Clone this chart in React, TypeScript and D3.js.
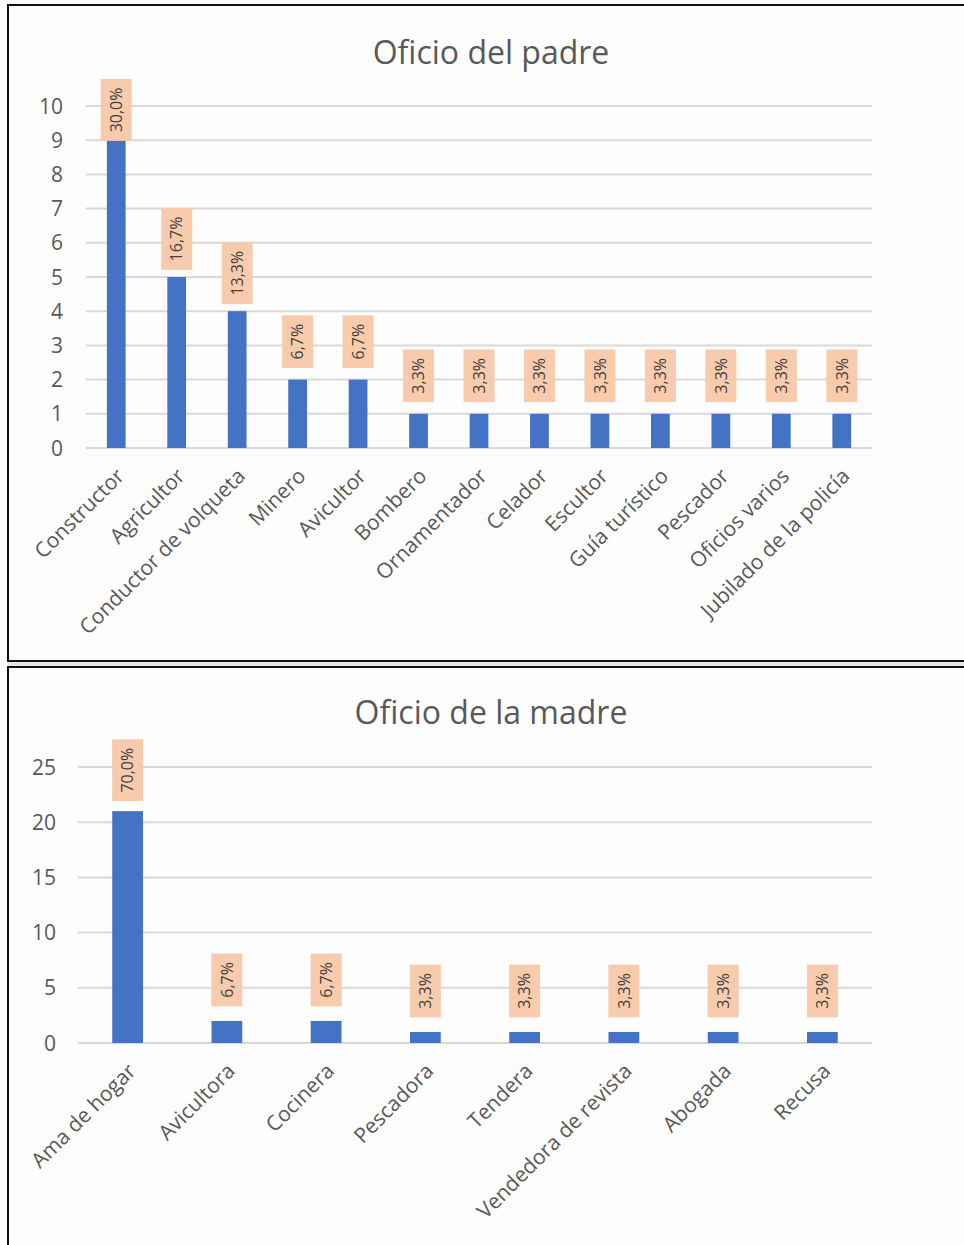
import React, { useEffect, useRef } from "react";
import * as d3 from "d3";

const padreCategories = [
  "Constructor",
  "Agricultor",
  "Conductor de volqueta",
  "Minero",
  "Avicultor",
  "Bombero",
  "Ornamentador",
  "Celador",
  "Escultor",
  "Guía turístico",
  "Pescador",
  "Oficios varios",
  "Jubilado de la policía",
];
const padreValues = [9, 5, 4, 2, 2, 1, 1, 1, 1, 1, 1, 1, 1];
const padreLabels = [
  "30,0%", "16,7%", "13,3%", "6,7%", "6,7%", "3,3%", "3,3%", "3,3%", "3,3%", "3,3%", "3,3%", "3,3%", "3,3%",
];
const padreTicks = [0, 1, 2, 3, 4, 5, 6, 7, 8, 9, 10];

const madreCategories = [
  "Ama de hogar",
  "Avicultora",
  "Cocinera",
  "Pescadora",
  "Tendera",
  "Vendedora de revista",
  "Abogada",
  "Recusa",
];
const madreValues = [21, 2, 2, 1, 1, 1, 1, 1];
const madreLabels = ["70,0%", "6,7%", "6,7%", "3,3%", "3,3%", "3,3%", "3,3%", "3,3%"];
const madreTicks = [0, 5, 10, 15, 20, 25];

const FONT = "'Open Sans', 'DejaVu Sans', sans-serif";
const TEXT = "#595959";
const GRID = "#d9d9d9";
const BAR = "#4472c4";
const LABEL_BG = "#f8cbad";

type ChartOpts = {
  title: string;
  categories: string[];
  values: number[];
  labels: string[];
  ticks: number[];
  x0: number;
  x1: number;
  y0: number;
  y1: number;
  titleY: number;
  tickX: number;
  labelOffset: number;
  labelMinTop: number;
};

function drawChart(g: d3.Selection<SVGGElement, unknown, null, undefined>, o: ChartOpts) {
  const maxV = o.ticks[o.ticks.length - 1];
  const x = d3.scaleBand<string>().domain(o.categories).range([o.x0, o.x1]).paddingInner(0.69).paddingOuter(0.345);
  const y = d3.scaleLinear().domain([0, maxV]).range([o.y0, o.y1]);

  g.append("text")
    .attr("x", 491)
    .attr("y", o.titleY)
    .attr("text-anchor", "middle")
    .attr("font-family", FONT)
    .attr("font-size", 32)
    .attr("fill", TEXT)
    .text(o.title);

  g.selectAll("line.grid")
    .data(o.ticks)
    .join("line")
    .attr("class", "grid")
    .attr("x1", o.x0)
    .attr("x2", o.x1)
    .attr("y1", (d) => y(d))
    .attr("y2", (d) => y(d))
    .attr("stroke", GRID)
    .attr("stroke-width", 2);

  g.selectAll("text.tick")
    .data(o.ticks)
    .join("text")
    .attr("class", "tick")
    .attr("x", o.tickX)
    .attr("y", (d) => y(d))
    .attr("dy", "0.36em")
    .attr("text-anchor", "end")
    .attr("font-family", FONT)
    .attr("font-size", 21)
    .attr("fill", TEXT)
    .text((d) => String(d));

  g.selectAll("rect.bar")
    .data(o.values)
    .join("rect")
    .attr("class", "bar")
    .attr("x", (_d, i) => x(o.categories[i])!)
    .attr("y", (d) => y(d))
    .attr("width", x.bandwidth())
    .attr("height", (d) => o.y0 - y(d))
    .attr("fill", BAR);

  o.values.forEach((v, i) => {
    const cx = x(o.categories[i])! + x.bandwidth() / 2;
    const lg = g.append("g");
    const rect = lg.append("rect").attr("fill", LABEL_BG);
    const t = lg
      .append("text")
      .attr("transform", "rotate(-90)")
      .attr("text-anchor", "middle")
      .attr("dy", "0.36em")
      .attr("font-family", FONT)
      .attr("font-size", 16)
      .attr("fill", "#404040")
      .text(o.labels[i]);
    const len = (t.node() as SVGTextElement).getComputedTextLength();
    const h = len + 17;
    const w = 31;
    let cy = y(v) - o.labelOffset;
    if (cy - h / 2 < o.labelMinTop) cy = o.labelMinTop + h / 2;
    rect.attr("x", -w / 2).attr("y", -h / 2).attr("width", w).attr("height", h);
    lg.attr("transform", `translate(${cx},${cy})`);
  });

  g.selectAll("text.cat")
    .data(o.categories)
    .join("text")
    .attr("class", "cat")
    .attr("transform", (d) => `translate(${x(d)! + x.bandwidth() / 2 + 4},${o.y0 + 24}) rotate(-45)`)
    .attr("text-anchor", "end")
    .attr("dy", "0.36em")
    .attr("font-family", FONT)
    .attr("font-size", 21)
    .attr("fill", TEXT)
    .text((d) => d);
}

export default function App() {
  const ref = useRef<SVGSVGElement>(null);
  useEffect(() => {
    const svg = d3.select(ref.current!);
    svg.selectAll("*").remove();
    svg.append("rect").attr("x", 0).attr("y", 0).attr("width", 964).attr("height", 1245).attr("fill", "#ffffff");
    svg.append("rect").attr("x", 8).attr("y", 661).attr("width", 960).attr("height", 6).attr("fill", "#e6e6e6");
    svg
      .append("rect")
      .attr("x", 8)
      .attr("y", 5)
      .attr("width", 970)
      .attr("height", 656)
      .attr("fill", "#fdfdfd")
      .attr("stroke", "#111")
      .attr("stroke-width", 2);
    svg
      .append("rect")
      .attr("x", 8)
      .attr("y", 667)
      .attr("width", 970)
      .attr("height", 600)
      .attr("fill", "#fdfdfd")
      .attr("stroke", "#111")
      .attr("stroke-width", 2);

    drawChart(svg.append("g"), {
      title: "Oficio del padre",
      categories: padreCategories,
      values: padreValues,
      labels: padreLabels,
      ticks: padreTicks,
      x0: 86,
      x1: 872,
      y0: 448,
      y1: 106,
      titleY: 64,
      tickX: 63,
      labelOffset: 38,
      labelMinTop: 79,
    });
    drawChart(svg.append("g"), {
      title: "Oficio de la madre",
      categories: madreCategories,
      values: madreValues,
      labels: madreLabels,
      ticks: madreTicks,
      x0: 78,
      x1: 872,
      y0: 1043,
      y1: 767,
      titleY: 724,
      tickX: 56,
      labelOffset: 41,
      labelMinTop: 0,
    });
  }, []);
  return (
    <svg
      ref={ref}
      width={964}
      height={1245}
      style={{ position: "absolute", left: 0, top: 0, display: "block" }}
    />
  );
}
